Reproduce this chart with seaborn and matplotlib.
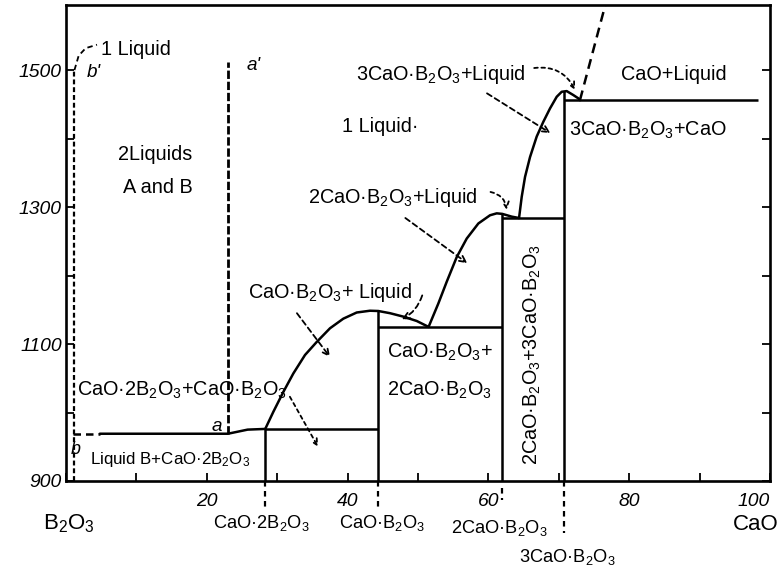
import matplotlib
matplotlib.use("Agg")
import matplotlib.pyplot as plt
from matplotlib import font_manager as fm
import seaborn as sns

# ---------------------------------------------------------------------------
# CaO - B2O3 phase diagram (composition in wt % CaO, temperature in deg C)
# ---------------------------------------------------------------------------

# congruently melting compounds: composition, melting point, label
compound_x = [28.3, 44.3, 61.9, 70.8]
compound_top = [976, 1148, 1290, 1469]
compound_names = ["CaO·2B$_2$O$_3$", "CaO·B$_2$O$_3$",
                  "2CaO·B$_2$O$_3$", "3CaO·B$_2$O$_3$"]

# liquidus branches
liq_cab_x = [28.3, 29.45, 30.87, 32.29, 33.95, 35.61, 37.50, 39.39, 41.29,
             43.18, 44.36, 46.02, 47.91, 49.82, 51.5]
liq_cab_t = [976, 1001, 1030, 1057, 1084, 1103, 1123, 1137, 1146,
             1148.6, 1148.2, 1145, 1140, 1133.6, 1125]

liq_c2b_x = [51.5, 52.88, 54.08, 55.50, 56.92, 58.57, 60.23, 61.18, 61.97,
             63.31, 64.35]
liq_c2b_t = [1125, 1159, 1191, 1227, 1254, 1276, 1288, 1290.8, 1290,
             1286, 1284]

liq_c3b_x = [64.35, 64.73, 65.20, 65.91, 66.86, 67.80, 68.75, 69.70, 70.41,
             71.12, 72.06, 72.77, 73.0]
liq_c3b_t = [1284, 1315, 1344, 1373, 1403, 1424.5, 1444, 1461, 1468.3,
             1469.3, 1463.5, 1458.7, 1456]

liq_cao_x = [73.0, 76.6]
liq_cao_t = [1456, 1595]

# monotectic / eutectic horizontals
mono_x = [4.8, 23.0, 25.8, 28.3]
mono_t = [969, 969, 975, 976]
mono_dash_x = [1.0, 4.8]
eut_t = [976, 1125, 1284, 1456]
eut_x0 = [28.3, 44.3, 61.9, 70.8]
eut_x1 = [44.3, 61.9, 70.8, 98.3]

# miscibility gap boundaries b-b' and a-a'
b_x = 1.2
b_t = [900, 1500]
b_hook_x = [1.2, 1.8, 2.8, 4.4]
b_hook_t = [1500, 1521, 1532, 1537]
a_x = 23.0
a_t = [969, 1512]

# axis ticks
x_ticks = list(range(0, 101, 10))
x_tick_labels = ["", "", "20", "", "40", "", "60", "", "80", "", "100"]
y_ticks = list(range(900, 1600, 100))
y_tick_labels = ["900", "", "1100", "", "1300", "", "1500"]

# ---------------------------------------------------------------------------
sns.set_theme(style="white")
available = {f.name for f in fm.fontManager.ttflist}
if "Liberation Sans Narrow" in available:
    FONT, S = "Liberation Sans Narrow", 1.0
elif "Liberation Sans" in available:
    FONT, S = "Liberation Sans", 0.82
else:
    FONT, S = "DejaVu Sans", 0.73
plt.rcParams["font.family"] = [FONT, "DejaVu Sans"]
plt.rcParams["mathtext.default"] = "regular"

FS = 17.5 * S        # region labels
FS_TICK = 17.0 * S   # numeric tick labels
FS_CMP = 16.0 * S    # compound names under the axis
FS_END = 19.5 * S    # end members

fig = plt.figure(figsize=(7.82, 5.75), dpi=100)
ax = fig.add_axes([0.0844, 0.1635, 0.9003, 0.8278])
ax.set_xlim(0, 100)
ax.set_ylim(900, 1595)

K = "black"
LW = 1.8

# liquidus curves
for xs, ts in [(liq_cab_x, liq_cab_t), (liq_c2b_x, liq_c2b_t), (liq_c3b_x, liq_c3b_t)]:
    sns.lineplot(x=xs, y=ts, sort=False, estimator=None, color=K, lw=LW, ax=ax)
sns.lineplot(x=liq_cao_x, y=liq_cao_t, sort=False, estimator=None, color=K,
             lw=LW, ax=ax, linestyle=(0, (4, 2.5)))

# monotectic line
sns.lineplot(x=mono_x, y=mono_t, sort=False, estimator=None, color=K, lw=LW, ax=ax)
ax.plot(mono_dash_x, [mono_t[0]] * 2, color=K, lw=LW, ls=(0, (3, 2)))

# eutectic horizontals and compound verticals
ax.hlines(eut_t, eut_x0, eut_x1, color=K, lw=LW)
ax.vlines(compound_x, 900, compound_top, color=K, lw=LW)

# miscibility gap
ax.plot([b_x, b_x], b_t, color=K, lw=1.6, ls=(0, (2.2, 1.3)))
ax.plot(b_hook_x, b_hook_t, color=K, lw=1.3, ls=(0, (3, 2)))
ax.plot([a_x, a_x], a_t, color=K, lw=2.0, ls=(0, (3, 1)))

# dashed drop lines below the axis at the compounds
drop_from = [900, 900, 890, 900]
drop_to = [862, 862, 872, 824]
for cx, t0, t1 in zip(compound_x, drop_from, drop_to):
    ax.plot([cx, cx], [t0, t1], color=K, lw=1.6, ls=(0, (2.5, 2)),
            clip_on=False)

# spines and ticks
for sp in ax.spines.values():
    sp.set_color(K)
    sp.set_linewidth(1.9)
ax.set_xticks(x_ticks, x_tick_labels)
ax.set_yticks(y_ticks, y_tick_labels)
ax.tick_params(axis="x", direction="in", length=6, width=1.3, color=K,
               bottom=True, top=False, pad=8.5, labelsize=FS_TICK)
ax.tick_params(axis="y", direction="in", length=6, width=1.3, color=K,
               left=True, right=True, pad=3, labelsize=FS_TICK)
for lab in ax.get_xticklabels() + ax.get_yticklabels():
    lab.set_fontstyle("italic")
    lab.set_color(K)
ax.get_xticklabels()[-1].set_horizontalalignment("right")
ax.set_xlabel("")
ax.set_ylabel("")
ax.grid(False)


def label(x, t, s, size=FS, **kw):
    kw.setdefault("ha", "center")
    kw.setdefault("va", "center")
    ax.text(x, t, s, fontsize=size, color=K, clip_on=False, **kw)


def leader(start, end, ls=(0, (3, 2)), rad=0.0):
    ax.annotate("", xy=end, xytext=start,
                arrowprops=dict(arrowstyle="->", color=K, lw=1.3, linestyle=ls,
                                shrinkA=0, shrinkB=0, mutation_scale=11,
                                connectionstyle=f"arc3,rad={rad}"))


# region labels
label(10.0, 1530, "1 Liquid")
label(3.9, 1497, "b'", style="italic", size=FS * 0.95)
label(26.6, 1507, "a'", style="italic", size=FS * 0.95)
label(12.6, 1376, "2Liquids")
label(13.1, 1328, "A and B")
label(44.7, 1417, "1 Liquid·")
label(53.3, 1493, "3CaO·B$_2$O$_3$+Liquid")
label(86.4, 1493, "CaO+Liquid")
label(82.7, 1412, "3CaO·B$_2$O$_3$+CaO")
label(46.4, 1314, "2CaO·B$_2$O$_3$+Liquid")
label(37.5, 1175, "CaO·B$_2$O$_3$+ Liquid")
label(1.6, 1033, "CaO·2B$_2$O$_3$+CaO·B$_2$O$_3$", ha="left")
label(21.4, 979, "a", style="italic", size=FS * 0.95)
label(1.4, 946, "b", style="italic", size=FS * 0.9)
label(3.4, 931, "Liquid B+CaO·2B$_2$O$_3$", ha="left", size=FS * 0.85)
label(45.6, 1088, "CaO·B$_2$O$_3$+", ha="left")
label(45.6, 1033, "2CaO·B$_2$O$_3$", ha="left")
label(66.3, 1084, "2CaO·B$_2$O$_3$+3CaO·B$_2$O$_3$", rotation=90)

# leaders into the two-phase fields
leader((31.8, 1023), (35.8, 950), ls=(0, (2, 2)))
leader((32.8, 1145), (37.5, 1081))
leader((50.6, 1171), (47.7, 1136), rad=-0.2)
leader((60.3, 1322), (62.6, 1296), ls=(0, (2, 2)), rad=-0.35)
leader((48.2, 1284), (57.0, 1218))
leader((66.5, 1503), (72.3, 1471), ls=(0, (2, 2)), rad=-0.35)
leader((59.8, 1466), (68.8, 1408))

# compound names and end members beneath the axis
cmp_label_x = [27.8, 44.9, 61.6, 71.2]
cmp_label_t = [838, 838, 831, 789]
for cx, ct, name in zip(cmp_label_x, cmp_label_t, compound_names):
    label(cx, ct, name, size=FS_CMP)
label(0.4, 838, "B$_2$O$_3$", size=FS_END)
label(97.9, 836, "CaO", size=FS_END)

fig.savefig("out.png", dpi=100, facecolor="white")
